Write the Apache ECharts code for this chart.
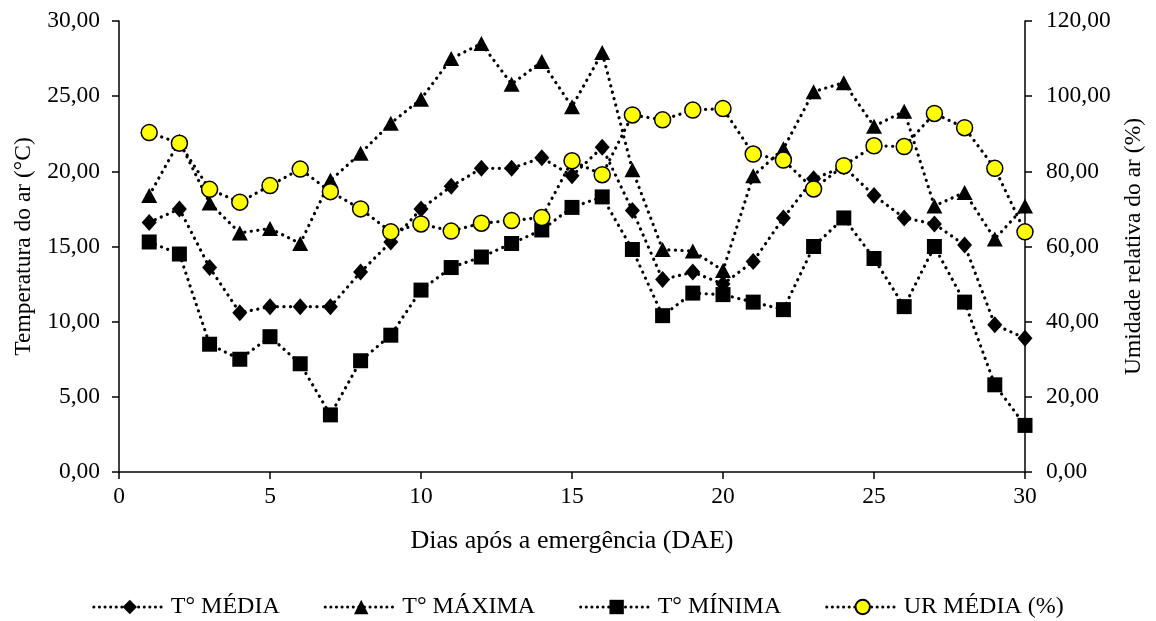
<!DOCTYPE html>
<html>
<head>
<meta charset="utf-8">
<script src="https://cdn.jsdelivr.net/npm/echarts@6/dist/echarts.min.js"></script>
<style>
  html, body { margin: 0; padding: 0; background: #fff; }
  #chart { width: 1156px; height: 621px; }
</style>
</head>
<body>
<div id="chart"></div>
<script>
// Days after emergence
const days = [1,2,3,4,5,6,7,8,9,10,11,12,13,14,15,16,17,18,19,20,21,22,23,24,25,26,27,28,29,30];

// Air temperature (°C)
const tMedia  = [16.6,17.5,13.6,10.6,11.0,11.0,11.0,13.3,15.3,17.5,19.0,20.2,20.2,20.9,19.7,21.6,17.4,12.8,13.3,12.5,14.0,16.9,19.5,20.3,18.4,16.9,16.5,15.1,9.8,8.9];
const tMaxima = [18.4,22.0,17.9,15.9,16.2,15.2,19.4,21.2,23.2,24.8,27.5,28.5,25.8,27.3,24.3,27.9,20.1,14.8,14.7,13.4,19.7,21.5,25.3,25.9,23.0,24.0,17.7,18.6,15.5,17.7];
const tMinima = [15.3,14.5,8.5,7.5,9.0,7.2,3.8,7.4,9.1,12.1,13.6,14.3,15.2,16.1,17.6,18.3,14.8,10.4,11.9,11.8,11.3,10.8,15.0,16.9,14.2,11.0,15.0,11.3,5.8,3.1];

// Mean relative humidity (%)
const urMedia = [90.3,87.5,75.2,71.8,76.2,80.6,74.6,70.0,63.9,66.0,64.1,66.2,66.9,67.7,82.8,79.1,95.0,93.7,96.3,96.7,84.6,83.0,75.3,81.5,86.8,86.6,95.4,91.6,80.8,63.9];

const seriesNames = ['T° MÉDIA', 'T° MÁXIMA', 'T° MÍNIMA', 'UR MÉDIA (%)'];

const FONT = '"Liberation Serif", "Times New Roman", serif';
const fmt = v => v.toFixed(2).replace('.', ',');
const pairs = vals => days.map((d, i) => [d, vals[i]]);

const dotted = { color: '#000', width: 3.2, type: [0.1, 6.5], cap: 'round' };

const chart = echarts.init(document.getElementById('chart'), null, { renderer: 'canvas' });

const axisLine = { show: true, lineStyle: { color: '#000', width: 1.5 } };
const axisTick = { show: true, inside: false, length: 7, lineStyle: { color: '#000', width: 1.5 } };
const labelStyle = { color: '#000', fontFamily: FONT, fontSize: 23.5 };

chart.setOption({
  animation: false,
  backgroundColor: '#fff',
  grid: { left: 119, right: 131, top: 21, bottom: 149, containLabel: false },
  xAxis: {
    type: 'value', min: 0, max: 30, interval: 5,
    axisLine, axisTick, splitLine: { show: false },
    axisLabel: Object.assign({}, labelStyle, { margin: 13 }),
    name: 'Dias após a emergência (DAE)', nameLocation: 'middle', nameGap: 56,
    nameTextStyle: { color: '#000', fontFamily: FONT, fontSize: 26 }
  },
  yAxis: [
    {
      type: 'value', min: 0, max: 30, interval: 5,
      axisLine, axisTick, splitLine: { show: false },
      axisLabel: Object.assign({}, labelStyle, { margin: 19, formatter: fmt }),
      name: 'Temperatura do ar (°C)', nameLocation: 'middle', nameGap: 80,
      nameTextStyle: { color: '#000', fontFamily: FONT, fontSize: 23.5 }
    },
    {
      type: 'value', min: 0, max: 120, interval: 20, position: 'right',
      axisLine, axisTick, splitLine: { show: false },
      axisLabel: Object.assign({}, labelStyle, { margin: 21, formatter: fmt }),
      name: 'Umidade relativa do ar (%)', nameLocation: 'middle', nameGap: 97,
      nameTextStyle: { color: '#000', fontFamily: FONT, fontSize: 23.5 }
    }
  ],
  legend: {
    top: 590, left: 'center',
    itemWidth: 72, itemHeight: 18, itemGap: 44,
    lineStyle: { width: 3, type: [0.1, 5.5], cap: 'round' },
    textStyle: { color: '#000', fontFamily: FONT, fontSize: 24 },
    data: seriesNames
  },
  series: [
    {
      name: seriesNames[0], type: 'line', yAxisIndex: 0, data: pairs(tMedia),
      symbol: 'diamond', symbolSize: [15, 17],
      itemStyle: { color: '#000' }, lineStyle: dotted, z: 3
    },
    {
      name: seriesNames[1], type: 'line', yAxisIndex: 0, data: pairs(tMaxima),
      symbol: 'triangle', symbolSize: [16, 15],
      itemStyle: { color: '#000' }, lineStyle: dotted, z: 3
    },
    {
      name: seriesNames[2], type: 'line', yAxisIndex: 0, data: pairs(tMinima),
      symbol: 'rect', symbolSize: [15, 15],
      itemStyle: { color: '#000' }, lineStyle: dotted, z: 3
    },
    {
      name: seriesNames[3], type: 'line', yAxisIndex: 1, data: pairs(urMedia),
      symbol: 'circle', symbolSize: 16,
      itemStyle: { color: '#ffff00', borderColor: '#000', borderWidth: 1.5 },
      lineStyle: dotted, z: 4
    }
  ]
});
</script>
</body>
</html>
